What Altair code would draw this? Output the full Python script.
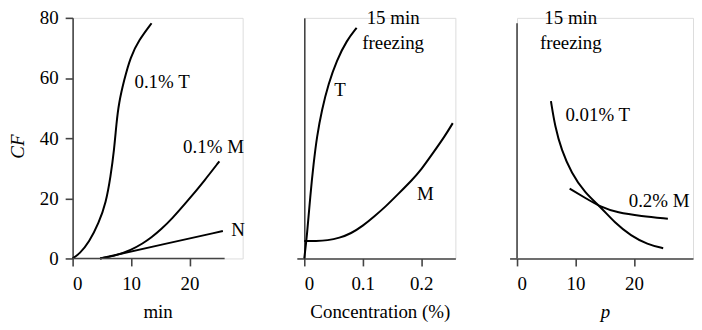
import altair as alt
import pandas as pd

FONT = "Liberation Serif"
FS = 19
AX = "#444444"

# ---------------- Panel 1: CF vs min ----------------
p1_T_x = [0, 1.2, 2.8, 4.5, 5.7, 6.5, 7.1, 7.5, 7.9, 8.8, 9.9, 11.3, 13.5]
p1_T_y = [0, 1.6, 5.3, 11.9, 18.5, 27.3, 36.1, 45, 51.6, 59.3, 67, 72.5, 78.2]
p1_M_x = [4.7, 7, 10.1, 12, 13.5, 15.2, 16.9, 19.7, 22.6, 25.1]
p1_M_y = [0, 0.7, 2.9, 5.0, 7.0, 9.8, 13.0, 19.2, 26.0, 32.3]
p1_N_x = [4.7, 15, 25.7]
p1_N_y = [0, 4.5, 9.1]
p1_lab = ["0.1% T", "0.1% M", "N"]
p1_lab_x = [15.3, 24.1, 28.3]
p1_lab_y = [58.6, 37, 9.6]
p1_xaxis_x = [0]
p1_xaxis_x2 = [26]

# ---------------- Panel 2: CF vs concentration ----------------
p2_T_x = [0, 0.0046, 0.0102, 0.016, 0.0216, 0.030, 0.0415, 0.0556, 0.0726, 0.0896]
p2_T_y = [0, 7.5, 20.7, 31.7, 40.5, 49.4, 58.2, 65.9, 72.5, 76.7]
p2_M_x = [0, 0.02, 0.04, 0.06, 0.08, 0.1, 0.12, 0.14, 0.16, 0.185, 0.2, 0.22, 0.24, 0.254]
p2_M_y = [5.8, 5.8, 6.0, 6.8, 8.3, 10.8, 14, 17.4, 21.3, 26.2, 29.5, 35, 40.5, 45]
p2_lab = ["15 min", "freezing", "T", "M"]
p2_lab_x = [0.152, 0.152, 0.061, 0.207]
p2_lab_y = [80.0, 71.6, 56, 21.3]

# ---------------- Panel 3: CF vs p ----------------
p3_T_x = [5.8, 6.5, 7.6, 9.3, 11.6, 14.3, 16.7, 19.5, 22.3, 25]
p3_T_y = [52.3, 43.8, 36.1, 28.4, 21.8, 17.1, 11.9, 7.5, 4.7, 3.4]
p3_M_x = [9, 11.6, 14.3, 17.2, 21.2, 25.8]
p3_M_y = [23.2, 20.2, 17.1, 15.2, 14.1, 13.2]
p3_lab = ["15 min", "freezing", "0.01% T", "0.2% M"]
p3_lab_x = [9.2, 9.2, 13.8, 24.3]
p3_lab_y = [80.0, 71.6, 47.7, 19]
p3_yaxis_y = [0]
p3_yaxis_y2 = [78.2]


def series_df(pairs):
    rows = []
    for name, xs, ys in pairs:
        for x, y in zip(xs, ys):
            rows.append({"s": name, "x": x, "y": y})
    return pd.DataFrame(rows)


def axis_x(title, values, fmt=None, domain=True, italic=False):
    kw = dict(
        title=title, values=values, grid=False, domain=domain,
        domainColor=AX, domainWidth=1.6, tickColor=AX, tickWidth=1.6,
        tickSize=7.5, labelPadding=9, labelFont=FONT, labelFontSize=FS,
        labelColor="black", titleFont=FONT, titleFontSize=FS,
        titleFontWeight="normal", titleColor="black", titlePadding=9,
        titleFontStyle="italic" if italic else "normal",
    )
    if fmt:
        kw["format"] = fmt
    return alt.Axis(**kw)


def make_panel(df, labels, xdom, width, xaxis, yaxis, extra=None):
    x = alt.X("x:Q", scale=alt.Scale(domain=xdom, nice=False, zero=False), axis=xaxis)
    y = alt.Y("y:Q", scale=alt.Scale(domain=[0, 80], nice=False), axis=yaxis)
    lines = alt.Chart(df).mark_line(
        color="black", strokeWidth=2, interpolate="basis"
    ).encode(x=x, y=y, detail="s:N")
    texts = alt.Chart(labels).mark_text(
        font=FONT, fontSize=FS, color="black", align="center", baseline="middle"
    ).encode(x="x:Q", y="y:Q", text="t:N")
    layers = [lines, texts]
    if extra is not None:
        layers.append(extra)
    return alt.layer(*layers).properties(width=width, height=242)


# Panel 1
df1 = series_df([("T", p1_T_x, p1_T_y), ("M", p1_M_x, p1_M_y), ("N", p1_N_x, p1_N_y)])
lab1 = pd.DataFrame({"t": p1_lab, "x": p1_lab_x, "y": p1_lab_y})
rule1 = alt.Chart(pd.DataFrame({"x": p1_xaxis_x, "x2": p1_xaxis_x2, "y": [0]})).mark_rule(
    color=AX, strokeWidth=1.6
).encode(x="x:Q", x2="x2:Q", y="y:Q")
yaxis1 = alt.Axis(
    title="CF", values=[0, 20, 40, 60, 80], grid=False, domainColor=AX, domainWidth=1.6,
    tickColor=AX, tickWidth=1.6, tickSize=7.5, labelPadding=7, labelFont=FONT,
    labelFontSize=FS, labelColor="black", titleFont=FONT, titleFontSize=FS,
    titleFontWeight="normal", titleFontStyle="italic", titleColor="black",
    titlePadding=12, titleY=129,
)
panel1 = make_panel(df1, lab1, [0, 29.08], 171,
                    axis_x("min", [0, 10, 20], domain=False), yaxis1, rule1)

# Panel 2
df2 = series_df([("T", p2_T_x, p2_T_y), ("M", p2_M_x, p2_M_y)])
lab2 = pd.DataFrame({"t": p2_lab, "x": p2_lab_x, "y": p2_lab_y})
yaxis_plain = alt.Axis(
    title=None, values=[0], labels=False, grid=False, domainColor=AX, domainWidth=1.6,
    tickColor=AX, tickWidth=1.6, tickSize=7.5,
)
panel2 = make_panel(df2, lab2, [0, 0.2585], 152,
                    axis_x("Concentration (%)", [0, 0.1, 0.2], fmt=".1~f"), yaxis_plain)

# Panel 3
df3 = series_df([("T", p3_T_x, p3_T_y), ("M", p3_M_x, p3_M_y)])
lab3 = pd.DataFrame({"t": p3_lab, "x": p3_lab_x, "y": p3_lab_y})
yaxis3 = alt.Axis(
    title=None, values=[0], labels=False, grid=False, domain=False,
    tickColor=AX, tickWidth=1.6, tickSize=7.5,
)
rule3 = alt.Chart(pd.DataFrame({"x": [0], "y": p3_yaxis_y, "y2": p3_yaxis_y2})).mark_rule(
    color=AX, strokeWidth=1.6
).encode(x="x:Q", y="y:Q", y2="y2:Q")
panel3 = make_panel(df3, lab3, [0, 30.1], 177,
                    axis_x("p", [0, 10, 20], italic=True), yaxis3, rule3)

chart = alt.hconcat(panel1, panel2, panel3, spacing=62, bounds="flush").properties(
    padding={"left": 0, "top": -1, "right": 0, "bottom": 0}
).configure_view(stroke=None).configure(background="white")

chart.save("out.html", embed_options={"renderer": "svg", "actions": False})
